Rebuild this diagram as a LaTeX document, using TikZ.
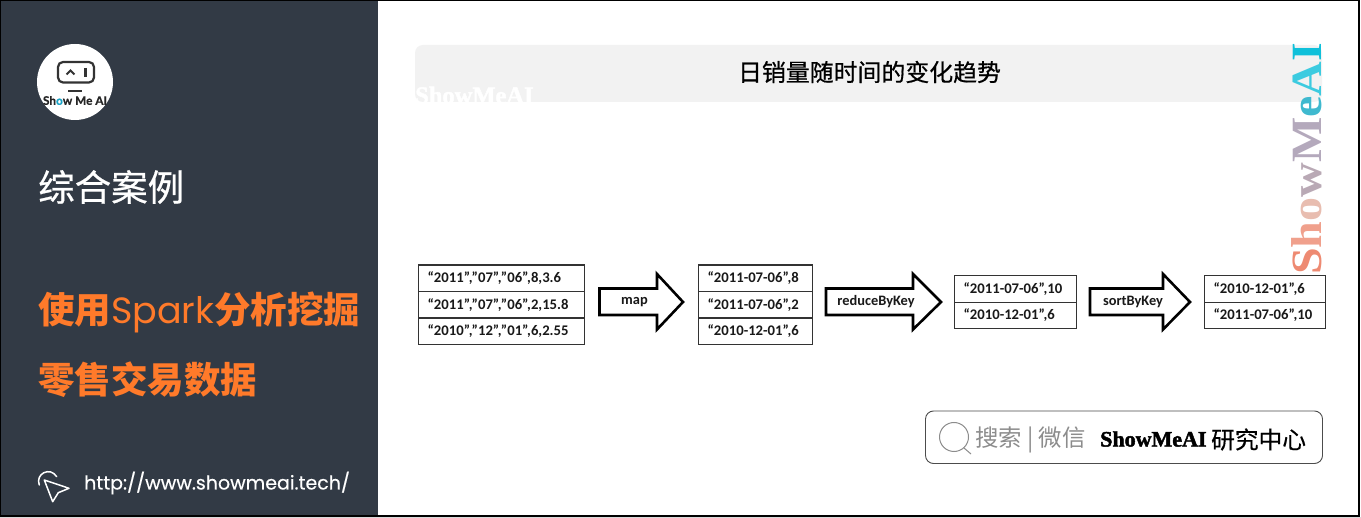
\documentclass[tikz,border=0pt]{standalone}
\usepackage{fontspec}
\setmainfont{Carlito}
\newfontfamily\cjk{Noto Sans CJK SC}
\newfontfamily\serifb{Liberation Serif}
\newfontfamily\sans{Lato}
\newfontfamily\pop{Poppins}
\definecolor{panel}{HTML}{323A45}
\definecolor{accent}{HTML}{FF7A2A}
\definecolor{barc}{HTML}{F2F2F2}
\definecolor{graytxt}{HTML}{8C8C8C}
\tikzset{
 x=1pt,y=-1pt,
 cell/.style={draw=black!80,line width=1.1pt,minimum height=26.6pt,inner ysep=0pt,inner xsep=9pt,text width=#1-18pt,align=left,font=\fontsize{14.7}{14.7}\selectfont\bfseries,text=black!90,anchor=north west},
 blockarrow/.style={draw=black,line width=2.6pt,fill=white,miter limit=10},
 arrowlabel/.style={font=\fontsize{14.4}{14.4}\selectfont\bfseries,text=black!90,inner sep=0pt},
 lefttitle/.style={anchor=west,inner sep=0pt,font=\cjk\fontsize{36.5}{36.5}\selectfont,text=accent},
}
\begin{document}
\begin{tikzpicture}
\useasboundingbox (0,0) rectangle (1361,518);
\fill[white] (0,0) rectangle (1361,518);
\fill[panel] (0,0) rectangle (378,516);
\fill[black!15] (0,517) rectangle (1361,518);
\fill[black] (0,0) rectangle (1360.4,1);
\fill[black] (0,0) rectangle (1,517);
\fill[black] (1358,0) rectangle (1360.4,517);
\fill[black] (0,515.3) rectangle (1360.4,517);
% logo
\fill[white] (75,82) circle (38);
\draw[black!80,line width=2.2pt,rounded corners=5pt] (58,62) rectangle (94,82.5);
\draw[black!80,line width=2pt] (66.5,74.5) -- (70.5,70.5) -- (74.5,74.5);
\draw[black!80,line width=2.4pt] (85.5,68) -- (85.5,77);
\draw[black!80,line width=2pt] (68,91.5) -- (82,91.5);
\node[inner sep=0pt,font=\sans\bfseries\fontsize{11.8}{11.8}\selectfont\addfontfeature{FakeBold=0.6},text=black!85] (logotxt) at (75,100.5) {Sh\textcolor[HTML]{1BA3C6}{o}w Me AI};
% left texts
\node[anchor=west,inner sep=0pt,font=\cjk\fontsize{36.5}{36.5}\selectfont\addfontfeature{FakeBold=0.6},text=white] (t1) at (38,187) {综合案例};
\node[lefttitle] (t2) at (38,312) {\textbf{使用}{\pop Spark}\textbf{分析挖掘}};
\node[lefttitle] (t3) at (38,380) {\textbf{零售交易数据}};
\node[anchor=west,inner sep=0pt,font=\pop\fontsize{19}{19}\selectfont\addfontfeature{FakeBold=0.4},text=white] (url) at (84,483) {http://www.showmeai.tech/};
% cursor icon
\draw[white,line width=1.5pt,line join=round] (44.3,480) -- (69,488.3) -- (58.3,492.7) -- (52.7,501.7) -- cycle;
\draw[white,line width=1.5pt,line cap=round] (39.3,485) .. controls (35,474) and (50,466) .. (56.7,476.7);
% title bar
\fill[barc,rounded corners=8pt] (415,45) rectangle (1322,102);
\begin{scope}
\clip (415,45) rectangle (1322,102);
\node[anchor=south west,inner sep=0pt,font=\serifb\bfseries\fontsize{24.5}{24.5}\selectfont\addfontfeature{FakeBold=2},text=white] (wm1) at (415,104) {ShowMeAI};
\end{scope}
\node[inner sep=0pt,font=\cjk\fontsize{23.9}{23.9}\selectfont\addfontfeature{FakeBold=0.6},text=black] (title) at (869.5,72) {日销量随时间的变化趋势};
% watermark
\node[rotate=90,anchor=south west,inner sep=0pt,font=\serifb\bfseries\fontsize{48}{48}\selectfont] (wm2) at (1322,275) {\scalebox{1}[0.9]{\textcolor[HTML]{EE8A72}{S}\textcolor[HTML]{F0A08C}{h}\textcolor[HTML]{E8BDB0}{o}\textcolor[HTML]{B9A9B5}{w}\textcolor[HTML]{B4A9BC}{M}\textcolor[HTML]{3FB9CF}{e}\textcolor[HTML]{3CCBE0}{A}\textcolor[HTML]{0FC0DA}{I}}};
% tables
\node[cell=166pt] (a1) at (418,264.5) {“2011”,”07”,”06”,8,3.6};
\node[cell=166pt] (a2) at (418,291) {“2011”,”07”,”06”,2,15.8};
\node[cell=166pt] (a3) at (418,317.5) {“2010”,”12”,”01”,6,2.55};
\node[cell=114pt] (b1) at (698,264.5) {“2011-07-06”,8};
\node[cell=114pt] (b2) at (698,291) {“2011-07-06”,2};
\node[cell=114pt] (b3) at (698,317.5) {“2010-12-01”,6};
\node[cell=122pt] (c1) at (954,275) {“2011-07-06”,10};
\node[cell=122pt] (c2) at (954,301.6) {“2010-12-01”,6};
\node[cell=121pt] (d1) at (1204,275) {“2010-12-01”,6};
\node[cell=121pt] (d2) at (1204,301.6) {“2011-07-06”,10};
% block arrows
\draw[blockarrow] (599.5,288.5) -- (657,288.5) -- (657,274) -- (683,302) -- (657,329.5) -- (657,315) -- (599.5,315) -- cycle;
\node[arrowlabel] (m1) at (634.5,302) {map};
\draw[blockarrow] (826,288.5) -- (913,288.5) -- (913,274) -- (941,302) -- (913,329.5) -- (913,315) -- (826,315) -- cycle;
\node[arrowlabel] (m2) at (876,302) {reduceByKey};
\draw[blockarrow] (1090,288.5) -- (1163,288.5) -- (1163,274) -- (1190,302) -- (1163,329.5) -- (1163,315) -- (1090,315) -- cycle;
\node[arrowlabel] (m3) at (1133,302) {sortByKey};
% search box
\draw[black!70,line width=0.9pt,rounded corners=8pt] (925.5,411) rectangle (1322.5,463.5);
\draw[graytxt,line width=1pt] (954,437) circle (14.5);
\draw[graytxt,line width=1pt] (964,448) -- (971,454);
\node[anchor=west,inner sep=0pt,font=\cjk\fontsize{23.4}{23.4}\selectfont,text=graytxt] (s1) at (975,440) {搜索 | 微信};
\node[anchor=west,inner sep=0pt,font=\serifb\bfseries\fontsize{22}{22}\selectfont\addfontfeature{FakeBold=2},text=black] (s2) at (1100,439) {ShowMeAI};
\node[anchor=west,inner sep=0pt,font=\cjk\fontsize{23.7}{23.7}\selectfont\addfontfeature{FakeBold=0.4},text=black] (s3) at (1211,439.5) {研究中心};
\end{tikzpicture}
\end{document}
